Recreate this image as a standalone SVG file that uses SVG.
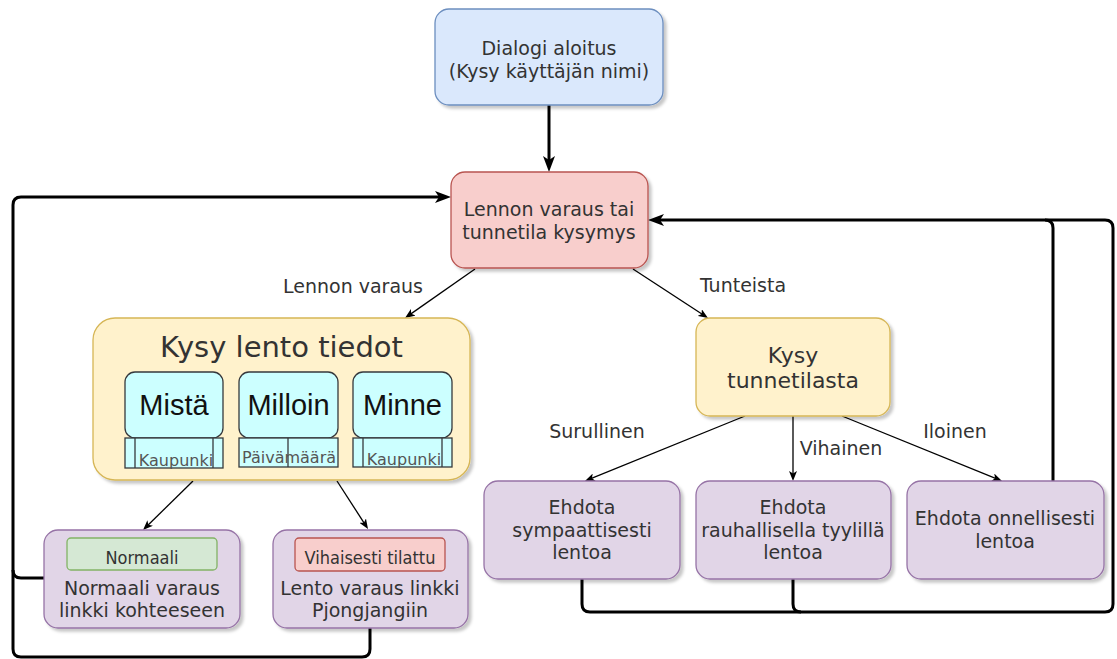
<svg xmlns="http://www.w3.org/2000/svg" width="1117" height="659" viewBox="0 0 1117 659">
<style>
text{font-family:"DejaVu Sans","Verdana",sans-serif;fill:#333;text-anchor:middle}
.t19{font-size:19px}
.t22{font-size:22px}
.title{font-size:29px}
.big{font-family:"Liberation Sans",Arial,sans-serif;font-size:29px;fill:#111}
.small{font-size:16px;fill:#555}
.tag{font-family:"DejaVu Sans Condensed","DejaVu Sans",sans-serif;font-stretch:condensed;font-size:18px}
.blue{fill:#dae8fc;stroke:#6c8ebf;stroke-width:1.3}
.red{fill:#f8cecc;stroke:#b85450;stroke-width:1.3}
.yellow{fill:#fff2cc;stroke:#d6b656;stroke-width:1.3}
.purple{fill:#e1d5e7;stroke:#9673a6;stroke-width:1.3}
.green{fill:#d5e8d4;stroke:#82b366;stroke-width:1.3}
.cyan{fill:#ccffff;stroke:#36393d;stroke-width:1.3}
.thick{fill:none;stroke:#000;stroke-width:3}
.thin{fill:none;stroke:#000;stroke-width:1.3}
</style>
<defs>
<filter id="sh" x="-10%" y="-10%" width="130%" height="130%">
<feDropShadow dx="3" dy="3" stdDeviation="1.5" flood-color="#000" flood-opacity="0.22"/>
</filter>
<marker id="ah" viewBox="0 0 16 12" markerWidth="16" markerHeight="12" refX="8" refY="6" orient="auto" markerUnits="userSpaceOnUse">
<path d="M0,0 L16,6 L0,12 L4,6 z" fill="#000"/>
</marker>
<marker id="at" viewBox="0 0 10 8" markerWidth="10" markerHeight="8" refX="5" refY="4" orient="auto" markerUnits="userSpaceOnUse">
<path d="M0,0 L10,4 L0,8 L2.5,4 z" fill="#000"/>
</marker>
</defs>

<g id="connectors">
<path class="thick" d="M549,105 V164" marker-end="url(#ah)"/>
<path class="thick" d="M44,578 H21 Q13,578 13,570 V205 Q13,197 21,197 H443" marker-end="url(#ah)"/>
<path class="thick" d="M370,627 V649 Q370,657 362,657 H21 Q13,657 13,649 V570"/>
<path class="thick" d="M1053,481 V228 Q1053,220 1045,220 H656" marker-end="url(#ah)"/>
<path class="thick" d="M793,579 V604 Q793,612 801,612 H1105 Q1113,612 1113,604 V228 Q1113,220 1105,220 H1045"/>
<path class="thick" d="M582,579 V604 Q582,612 590,612 H801"/>
<path class="thin" d="M475,269 L409.1,315.1" marker-end="url(#at)"/>
<path class="thin" d="M633,269 L703.8,315.3" marker-end="url(#at)"/>
<path class="thin" d="M193,481 L146.6,526.5" marker-end="url(#at)"/>
<path class="thin" d="M337,481 L365.3,524.8" marker-end="url(#at)"/>
<path class="thin" d="M745,416 L589.6,479.1" marker-end="url(#at)"/>
<path class="thin" d="M793,416 V476" marker-end="url(#at)"/>
<path class="thin" d="M842,416 L997.4,479.1" marker-end="url(#at)"/>
<text class="t19" x="353" y="293">Lennon varaus</text>
<text class="t19" x="743" y="292">Tunteista</text>
<text class="t19" x="597" y="438">Surullinen</text>
<text class="t19" x="841" y="455">Vihainen</text>
<text class="t19" x="955" y="438">Iloinen</text>
</g>

<g id="node-start">
<rect class="blue" x="435" y="9" width="228" height="96" rx="14" filter="url(#sh)"/>
<text class="t19" x="549" y="55">Dialogi aloitus</text>
<text class="t19" x="549" y="78">(Kysy käyttäjän nimi)</text>
</g>

<g id="node-question">
<rect class="red" x="451" y="172" width="197" height="96" rx="14" filter="url(#sh)"/>
<text class="t19" x="549" y="216">Lennon varaus tai</text>
<text class="t19" x="549" y="239">tunnetila kysymys</text>
</g>

<g id="node-flightinfo">
<rect class="yellow" x="93" y="318" width="377" height="162" rx="22" filter="url(#sh)"/>
<text class="title" x="281.5" y="357">Kysy lento tiedot</text>
<g id="node-mista">
<rect class="cyan" x="125" y="372" width="98" height="66" rx="10"/>
<text class="big" x="174" y="415">Mistä</text>
<rect class="cyan" x="125" y="438" width="98" height="30"/>
<path d="M135,438 V468 M213,438 V468" stroke="#36393d" stroke-width="1.3"/>
<text class="small" x="176" y="466">Kaupunki</text>
</g>
<g id="node-milloin">
<rect class="cyan" x="239" y="372" width="99" height="66" rx="10"/>
<text class="big" x="288.5" y="415">Milloin</text>
<rect class="cyan" x="239" y="438" width="99" height="29"/>
<path d="M288,438 V467" stroke="#36393d" stroke-width="1.3"/>
<text class="small" x="289" y="463">Päivämäärä</text>
</g>
<g id="node-minne">
<rect class="cyan" x="353" y="372" width="99" height="66" rx="10"/>
<text class="big" x="402.5" y="415">Minne</text>
<rect class="cyan" x="353" y="438" width="99" height="29"/>
<path d="M363,438 V467 M442,438 V467" stroke="#36393d" stroke-width="1.3"/>
<text class="small" x="404" y="465">Kaupunki</text>
</g>
</g>

<g id="node-normal">
<rect class="purple" x="44" y="530" width="196" height="98" rx="14" filter="url(#sh)"/>
<rect class="green" x="67" y="538" width="150" height="32" rx="4"/>
<text class="tag" x="142" y="564">Normaali</text>
<text class="t19" x="142" y="595">Normaali varaus</text>
<text class="t19" x="142" y="617">linkki kohteeseen</text>
</g>

<g id="node-angry-order">
<rect class="purple" x="273" y="530" width="195" height="98" rx="14" filter="url(#sh)"/>
<rect class="red" x="295" y="538" width="150" height="33" rx="4"/>
<text class="tag" x="370" y="564">Vihaisesti tilattu</text>
<text class="t19" x="370" y="595">Lento varaus linkki</text>
<text class="t19" x="370" y="617">Pjongjangiin</text>
</g>

<g id="node-mood">
<rect class="yellow" x="696" y="318" width="194" height="98" rx="14" filter="url(#sh)"/>
<text class="t22" x="793" y="363">Kysy</text>
<text class="t22" x="793" y="388">tunnetilasta</text>
</g>

<g id="node-sad">
<rect class="purple" x="484" y="481" width="196" height="98" rx="14" filter="url(#sh)"/>
<text class="t19" x="582" y="514">Ehdota</text>
<text class="t19" x="582" y="537">sympaattisesti</text>
<text class="t19" x="582" y="559">lentoa</text>
</g>

<g id="node-angry">
<rect class="purple" x="696" y="481" width="195" height="98" rx="14" filter="url(#sh)"/>
<text class="t19" x="793" y="514">Ehdota</text>
<text class="t19" x="793" y="537">rauhallisella tyylillä</text>
<text class="t19" x="793" y="559">lentoa</text>
</g>

<g id="node-happy">
<rect class="purple" x="907" y="481" width="197" height="98" rx="14" filter="url(#sh)"/>
<text class="t19" x="1005" y="525">Ehdota onnellisesti</text>
<text class="t19" x="1005" y="548">lentoa</text>
</g>
</svg>
